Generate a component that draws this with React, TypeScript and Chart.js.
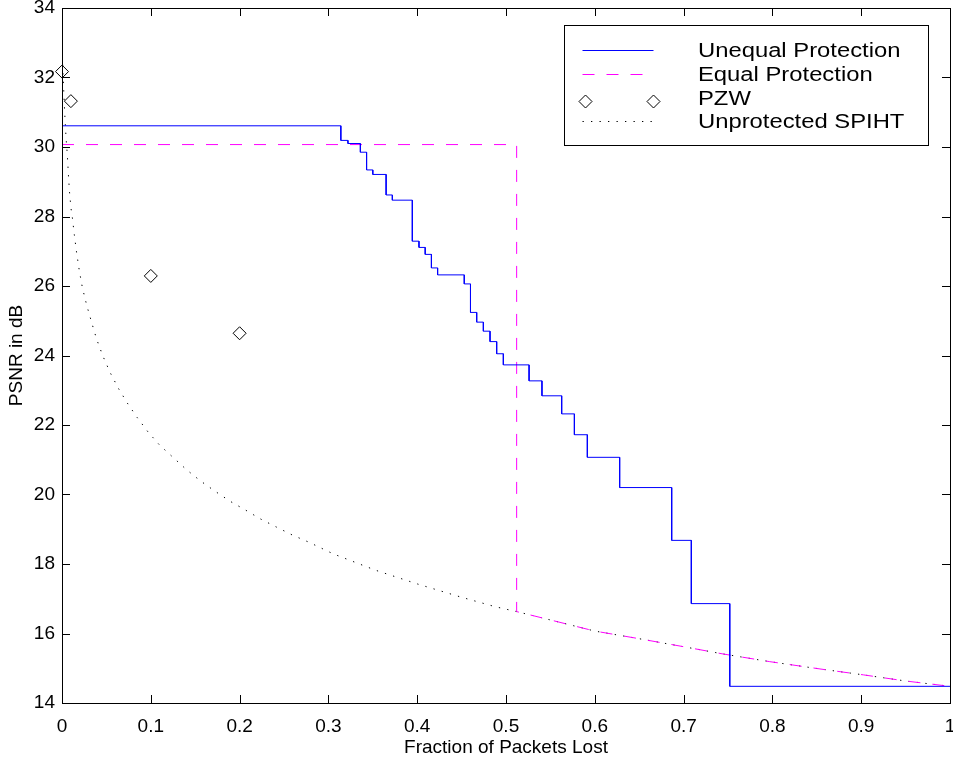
import React, { useEffect, useRef } from 'react';
import { Chart, registerables } from 'chart.js';

Chart.register(...registerables);

// ---- data ----
const xTicks = [0, 0.1, 0.2, 0.3, 0.4, 0.5, 0.6, 0.7, 0.8, 0.9, 1];
const xTickLabels = ['0', '0.1', '0.2', '0.3', '0.4', '0.5', '0.6', '0.7', '0.8', '0.9', '1'];
const yTicks = [14, 16, 18, 20, 22, 24, 26, 28, 30, 32, 34];
const yTickLabels = ['14', '16', '18', '20', '22', '24', '26', '28', '30', '32', '34'];

const seriesLabels = ['Unequal Protection', 'Equal Protection', 'PZW', 'Unprotected SPIHT'];

// Unequal protection: staircase (x where each step drops, and the level of each step)
const unequalBreaks = [
  0.314, 0.322, 0.336, 0.343, 0.35, 0.365, 0.372, 0.3945, 0.402, 0.409, 0.416, 0.423,
  0.453, 0.46, 0.467, 0.4745, 0.482, 0.4895, 0.497, 0.526, 0.5405, 0.5627, 0.577,
  0.5916, 0.628, 0.6866, 0.7087, 0.752,
];
const unequalLevels = [
  30.61, 30.19, 30.1, 29.85, 29.34, 29.21, 28.62, 28.47, 27.29, 27.11, 26.91, 26.52,
  26.32, 26.06, 25.24, 24.96, 24.7, 24.4, 24.05, 23.73, 23.27, 22.84, 22.32, 21.72,
  21.07, 20.2, 18.68, 16.86, 14.48,
];

// Equal protection: flat level until the cut-off, then falls to the unprotected curve
const equalLevel = 30.07;
const equalCutoff = 0.512;

// PZW
const pzwX = [0, 0.01, 0.1, 0.2];
const pzwY = [32.17, 31.32, 26.29, 24.64];

// Unprotected SPIHT
const spihtX = [
  0, 0.001, 0.002, 0.003, 0.0045, 0.006, 0.0071, 0.0083, 0.0101, 0.0116, 0.0139, 0.0165,
  0.0195, 0.0229, 0.0278, 0.0334, 0.039, 0.0458, 0.054, 0.0634, 0.0736, 0.0848, 0.0972,
  0.11, 0.1254, 0.1404, 0.156, 0.172, 0.189, 0.2068, 0.224, 0.2417, 0.2597, 0.2778,
  0.3056, 0.3532, 0.4009, 0.449, 0.488, 0.512, 0.55, 0.6, 0.65, 0.7, 0.7447, 0.797,
  0.8536, 0.9024, 0.951, 1.0,
];
const spihtY = [
  33.1, 32.2, 31.6, 31.0, 30.29, 29.77, 29.26, 28.75, 28.24, 27.98, 27.47, 26.95,
  26.44, 25.96, 25.45, 24.95, 24.47, 24.0, 23.52, 23.06, 22.63, 22.21, 21.79,
  21.42, 21.06, 20.71, 20.39, 20.1, 19.81, 19.55, 19.29, 19.06, 18.83, 18.63,
  18.29, 17.82, 17.42, 17.05, 16.77, 16.63, 16.39, 16.07, 15.85, 15.62, 15.41, 15.19,
  14.98, 14.81, 14.63, 14.48,
];

const FONT = "'Liberation Sans', Arial, Helvetica, sans-serif";

function buildUnequal() {
  const pts = [{ x: 0, y: unequalLevels[0] }];
  unequalBreaks.forEach((b, i) => {
    pts.push({ x: b, y: unequalLevels[i] });
    pts.push({ x: b, y: unequalLevels[i + 1] });
  });
  pts.push({ x: 1, y: unequalLevels[unequalLevels.length - 1] });
  return pts;
}

const spihtPts = spihtX.map((x, i) => ({ x, y: spihtY[i] }));
const equalPts = [
  { x: 0, y: equalLevel },
  { x: equalCutoff, y: equalLevel },
  ...spihtPts.filter((p) => p.x >= equalCutoff),
];
const pzwPts = pzwX.map((x, i) => ({ x, y: pzwY[i] }));

const frameTicksPlugin = {
  id: 'frameTicks',
  afterDatasetsDraw(chart: any) {
    const { ctx, chartArea, scales } = chart;
    const { left, right, top, bottom } = chartArea;
    const L = 8;
    ctx.save();
    ctx.strokeStyle = '#000';
    ctx.lineWidth = 1;
    ctx.beginPath();
    xTicks.forEach((v) => {
      const px = Math.round(scales.x.getPixelForValue(v)) + 0.5;
      ctx.moveTo(px, bottom);
      ctx.lineTo(px, bottom - L);
      ctx.moveTo(px, top);
      ctx.lineTo(px, top + L);
    });
    yTicks.forEach((v) => {
      const py = Math.round(scales.y.getPixelForValue(v)) + 0.5;
      ctx.moveTo(left, py);
      ctx.lineTo(left + L, py);
      ctx.moveTo(right, py);
      ctx.lineTo(right - L, py);
    });
    ctx.stroke();
    ctx.strokeRect(Math.round(left) + 0.5, Math.round(top) + 0.5, Math.round(right - left), Math.round(bottom - top));
    ctx.restore();
  },
};

const legendBoxPlugin = {
  id: 'legendBox',
  afterDraw(chart: any) {
    const { ctx, chartArea } = chart;
    const ds = chart.data.datasets;
    const bx = Math.round(chartArea.right - 386) + 0.5;
    const by = Math.round(chartArea.top + 17) + 0.5;
    const bw = 364;
    const bh = 120;
    ctx.save();
    ctx.fillStyle = '#fff';
    ctx.fillRect(bx, by, bw, bh);
    ctx.strokeStyle = '#000';
    ctx.lineWidth = 1;
    ctx.strokeRect(bx, by, bw, bh);
    const sx0 = bx + 18;
    const sx1 = bx + 89;
    const sampleY = [24, 48, 75, 95];
    const baseY = [31, 55, 79, 102.5];
    const stretch = 1.19;
    ds.forEach((d: any, i: number) => {
      const y = Math.round(by + sampleY[i]) + 0.5;
      if (d.showLine) {
        ctx.beginPath();
        ctx.setLineDash(d.borderDash || []);
        ctx.strokeStyle = d.borderColor;
        ctx.lineWidth = d.borderWidth;
        ctx.moveTo(sx0, y);
        ctx.lineTo(sx1, y);
        ctx.stroke();
        ctx.setLineDash([]);
      } else {
        [sx0 + 3, sx1].forEach((px) => {
          const r = d.pointRadius;
          ctx.beginPath();
          ctx.moveTo(px, y - r);
          ctx.lineTo(px + r, y);
          ctx.lineTo(px, y + r);
          ctx.lineTo(px - r, y);
          ctx.closePath();
          ctx.strokeStyle = d.borderColor;
          ctx.lineWidth = 1;
          ctx.stroke();
        });
      }
      ctx.save();
      ctx.translate(bx + 133.5, by + baseY[i]);
      ctx.scale(stretch, 1);
      ctx.font = `20px ${FONT}`;
      ctx.textBaseline = 'alphabetic';
      ctx.textAlign = 'left';
      ctx.fillStyle = '#000';
      ctx.fillText(d.label, 0, 0);
      ctx.restore();
    });
    ctx.restore();
  },
};

function zeroPadding(s: any) {
  s.paddingLeft = 0;
  s.paddingRight = 0;
  s.paddingTop = 0;
  s.paddingBottom = 0;
}

export default function App() {
  const ref = useRef<HTMLCanvasElement | null>(null);

  useEffect(() => {
    if (!ref.current) return;
    const chart = new Chart(ref.current, {
      type: 'scatter',
      data: {
        datasets: [
          {
            label: seriesLabels[0],
            data: buildUnequal(),
            showLine: true,
            borderColor: '#0000ff',
            borderWidth: 1,
            pointRadius: 0,
            fill: false,
          },
          {
            label: seriesLabels[1],
            data: equalPts,
            showLine: true,
            borderColor: '#ff00ff',
            borderWidth: 1,
            borderDash: [12, 12],
            pointRadius: 0,
            fill: false,
          },
          {
            label: seriesLabels[2],
            data: pzwPts,
            showLine: false,
            pointStyle: 'rectRot',
            pointRadius: 6.5,
            pointBorderWidth: 1,
            borderWidth: 1,
            borderColor: '#000',
            pointBorderColor: '#000',
            pointBackgroundColor: 'rgba(0,0,0,0)',
            backgroundColor: 'rgba(0,0,0,0)',
            clip: false,
          },
          {
            label: seriesLabels[3],
            data: spihtPts,
            showLine: true,
            borderColor: '#000',
            borderWidth: 1,
            borderDash: [1.3, 7.2],
            pointRadius: 0,
            fill: false,
          },
        ],
      },
      options: {
        animation: false,
        responsive: false,
        devicePixelRatio: 1,
        layout: { autoPadding: false, padding: { top: 8, right: 3, left: 0, bottom: 0 } },
        plugins: {
          legend: { display: false },
          tooltip: { enabled: false },
        },
        scales: {
          x: {
            type: 'linear',
            min: 0,
            max: 1,
            afterBuildTicks: (s: any) => {
              s.ticks = xTicks.map((v) => ({ value: v }));
            },
            afterFit: (s: any) => {
              s.height = 54;
              zeroPadding(s);
            },
            ticks: {
              callback: (_v: any, i: number) => xTickLabels[i],
              font: { family: FONT, size: 19 },
              color: '#000',
              padding: 12,
              maxRotation: 0,
              autoSkip: false,
            },
            grid: { display: false, drawTicks: false },
            border: { display: false },
            title: {
              display: true,
              text: 'Fraction of Packets Lost',
              font: { family: FONT, size: 19, lineHeight: 1 },
              color: '#000',
              padding: { top: 0, bottom: 0 },
            },
          },
          y: {
            type: 'linear',
            min: 14,
            max: 34,
            afterBuildTicks: (s: any) => {
              s.ticks = yTicks.map((v) => ({ value: v }));
            },
            afterFit: (s: any) => {
              s.width = 62;
              zeroPadding(s);
            },
            ticks: {
              callback: (_v: any, i: number) => yTickLabels[i],
              font: { family: FONT, size: 19 },
              color: '#000',
              padding: 7,
              autoSkip: false,
            },
            grid: { display: false, drawTicks: false },
            border: { display: false },
            title: {
              display: true,
              text: 'PSNR in dB',
              font: { family: FONT, size: 19, lineHeight: 1 },
              color: '#000',
              padding: { top: 7, bottom: 0 },
            },
          },
        },
      },
      plugins: [frameTicksPlugin, legendBoxPlugin],
    } as any);
    return () => chart.destroy();
  }, []);

  return (
    <div style={{ position: 'fixed', left: 0, top: 0, width: 953, height: 757, background: '#fff' }}>
      <canvas ref={ref} width={953} height={757} style={{ width: 953, height: 757, display: 'block' }} />
    </div>
  );
}
